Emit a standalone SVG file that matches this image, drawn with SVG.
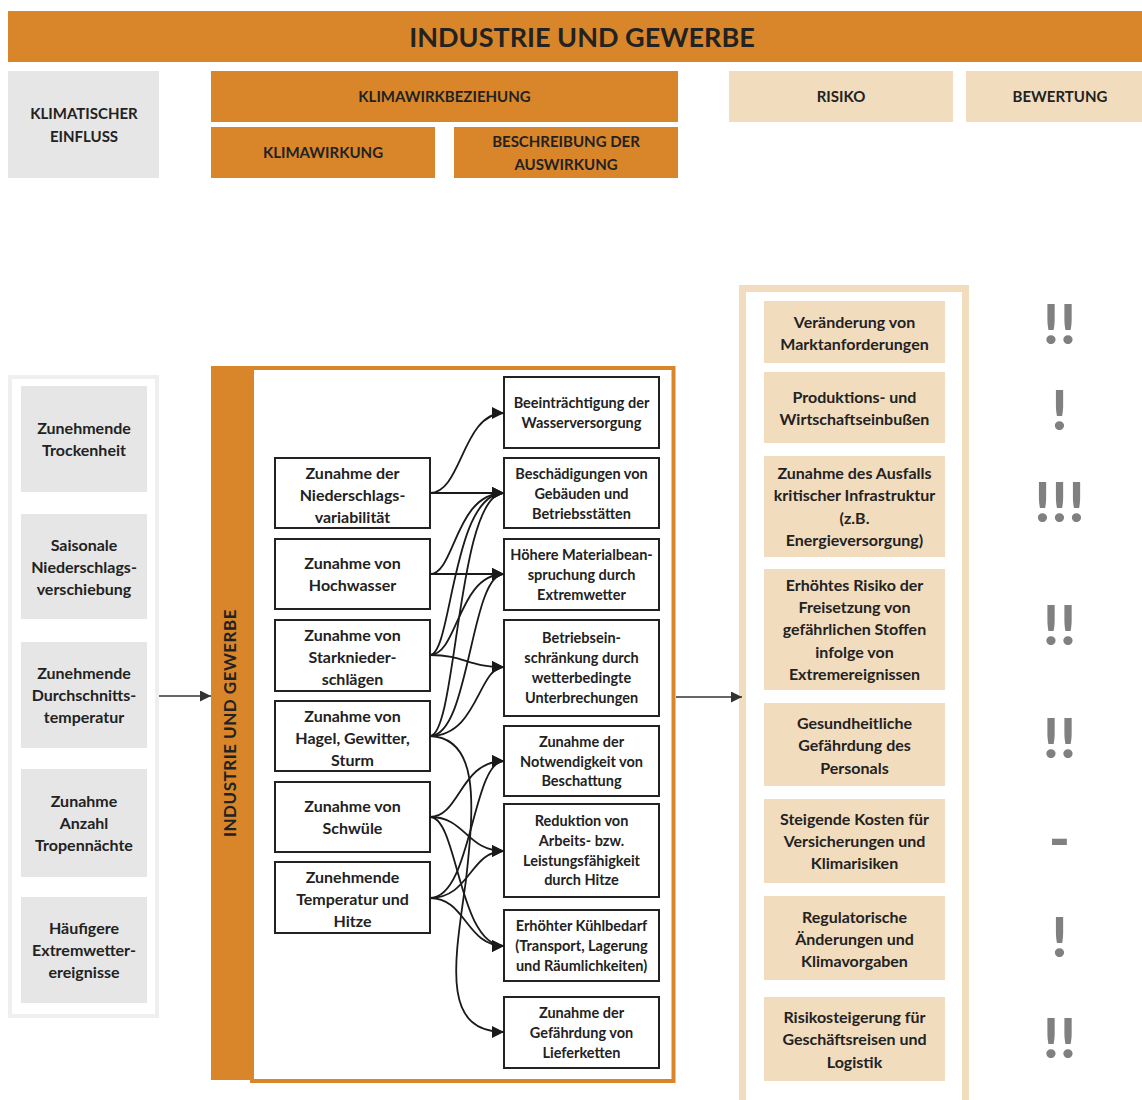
<svg xmlns="http://www.w3.org/2000/svg" width="1142" height="1100" viewBox="0 0 1142 1100">
  <style>
    .t { font-family: "Lato", "Noto Sans", "Liberation Sans", sans-serif; font-weight: 700; fill: #222; text-anchor: middle; }
    .hd { font-size: 15px; }
    .lg { font-size: 16px; }
    .sm { font-size: 14.5px; }
    .orange { fill: #D9862A; }
    .beige { fill: #F2DCBE; }
    .grey { fill: #E6E6E6; }
    .box { fill: #fff; stroke: #222; stroke-width: 2; }
    .edge { fill: none; stroke: #1a1a1a; stroke-width: 1.8; marker-end: url(#ah); }
    .flow { fill: none; stroke: #333; stroke-width: 1.6; marker-end: url(#ah2); }
    .mark { font-family: "Lato", "Liberation Sans", sans-serif; font-weight: 900; font-size: 56px; fill: #808080; text-anchor: middle; letter-spacing: 1px; }
  </style>
  <defs>
    <marker id="ah" viewBox="0 0 10 10" refX="10" refY="5" markerWidth="12" markerHeight="12" markerUnits="userSpaceOnUse" orient="auto">
      <path d="M0,0 L10,5 L0,10 z" fill="#1a1a1a"/>
    </marker>
    <marker id="ah2" viewBox="0 0 10 10" refX="10" refY="5" markerWidth="11" markerHeight="11" markerUnits="userSpaceOnUse" orient="auto">
      <path d="M0,0 L10,5 L0,10 z" fill="#333"/>
    </marker>
  </defs>

  <rect width="1142" height="1100" fill="#fff"/>

  <!-- title bar -->
  <g id="title">
    <rect class="orange" x="8" y="11" width="1134" height="51"/>
    <text class="t" x="582" y="47" font-size="27">INDUSTRIE UND GEWERBE</text>
  </g>

  <!-- column headers -->
  <g id="hdr-einfluss">
    <rect class="grey" x="8" y="71" width="151" height="107"/>
    <text class="t hd" x="84" y="119">KLIMATISCHER</text>
    <text class="t hd" x="84" y="142">EINFLUSS</text>
  </g>
  <g id="hdr-klimawirkbeziehung">
    <rect class="orange" x="211" y="71" width="467" height="51"/>
    <text class="t hd" x="444.5" y="102">KLIMAWIRKBEZIEHUNG</text>
  </g>
  <g id="hdr-klimawirkung">
    <rect class="orange" x="211" y="127" width="224" height="51"/>
    <text class="t hd" x="323" y="158">KLIMAWIRKUNG</text>
  </g>
  <g id="hdr-beschreibung">
    <rect class="orange" x="454" y="127" width="224" height="51"/>
    <text class="t hd" x="566" y="147">BESCHREIBUNG DER</text>
    <text class="t hd" x="566" y="170">AUSWIRKUNG</text>
  </g>
  <g id="hdr-risiko">
    <rect class="beige" x="729" y="71" width="224" height="51"/>
    <text class="t hd" x="841" y="102">RISIKO</text>
  </g>
  <g id="hdr-bewertung">
    <rect class="beige" x="966" y="71" width="176" height="51"/>
    <text class="t hd" x="1060" y="102">BEWERTUNG</text>
  </g>

  <!-- climate influence column -->
  <g id="einfluss-frame">
    <rect x="10" y="377" width="147" height="639" fill="#fff" stroke="#EFEFEF" stroke-width="4"/>
  </g>
  <g id="e1">
    <rect class="grey" x="21" y="386" width="126" height="106"/>
    <text class="t lg" x="84" y="434">Zunehmende</text>
    <text class="t lg" x="84" y="456">Trockenheit</text>
  </g>
  <g id="e2">
    <rect class="grey" x="21" y="514" width="126" height="105"/>
    <text class="t lg" x="84" y="551">Saisonale</text>
    <text class="t lg" x="84" y="573">Niederschlags-</text>
    <text class="t lg" x="84" y="595">verschiebung</text>
  </g>
  <g id="e3">
    <rect class="grey" x="21" y="642" width="126" height="106"/>
    <text class="t lg" x="84" y="679">Zunehmende</text>
    <text class="t lg" x="84" y="701">Durchschnitts-</text>
    <text class="t lg" x="84" y="723">temperatur</text>
  </g>
  <g id="e4">
    <rect class="grey" x="21" y="769" width="126" height="108"/>
    <text class="t lg" x="84" y="807">Zunahme</text>
    <text class="t lg" x="84" y="829">Anzahl</text>
    <text class="t lg" x="84" y="851">Tropennächte</text>
  </g>
  <g id="e5">
    <rect class="grey" x="21" y="897" width="126" height="106"/>
    <text class="t lg" x="84" y="934">Häufigere</text>
    <text class="t lg" x="84" y="956">Extremwetter-</text>
    <text class="t lg" x="84" y="978">ereignisse</text>
  </g>

  <!-- sector frame -->
  <g id="sector">
    <rect x="252" y="368" width="421.5" height="713" fill="#fff" stroke="#D9862A" stroke-width="4"/>
    <rect class="orange" x="211" y="366" width="42" height="714"/>
    <text class="t" transform="translate(236,723) rotate(-90)" font-size="17" letter-spacing="0.5">INDUSTRIE UND GEWERBE</text>
  </g>

  <!-- climate effects -->
  <g id="k1">
    <rect class="box" x="275" y="458" width="155" height="70"/>
    <text class="t lg" x="352.5" y="479">Zunahme der</text>
    <text class="t lg" x="352.5" y="501">Niederschlags-</text>
    <text class="t lg" x="352.5" y="523">variabilität</text>
  </g>
  <g id="k2">
    <rect class="box" x="275" y="539" width="155" height="70"/>
    <text class="t lg" x="352.5" y="569">Zunahme von</text>
    <text class="t lg" x="352.5" y="591">Hochwasser</text>
  </g>
  <g id="k3">
    <rect class="box" x="275" y="620" width="155" height="71"/>
    <text class="t lg" x="352.5" y="641">Zunahme von</text>
    <text class="t lg" x="352.5" y="663">Starknieder-</text>
    <text class="t lg" x="352.5" y="685">schlägen</text>
  </g>
  <g id="k4">
    <rect class="box" x="275" y="701" width="155" height="70"/>
    <text class="t lg" x="352.5" y="722">Zunahme von</text>
    <text class="t lg" x="352.5" y="744">Hagel, Gewitter,</text>
    <text class="t lg" x="352.5" y="766">Sturm</text>
  </g>
  <g id="k5">
    <rect class="box" x="275" y="782" width="155" height="70"/>
    <text class="t lg" x="352.5" y="812">Zunahme von</text>
    <text class="t lg" x="352.5" y="834">Schwüle</text>
  </g>
  <g id="k6">
    <rect class="box" x="275" y="862" width="155" height="71"/>
    <text class="t lg" x="352.5" y="883">Zunehmende</text>
    <text class="t lg" x="352.5" y="905">Temperatur und</text>
    <text class="t lg" x="352.5" y="927">Hitze</text>
  </g>

  <!-- impact descriptions -->
  <g id="a1">
    <rect class="box" x="504" y="377" width="155" height="71"/>
    <text class="t sm" x="581.5" y="408">Beeinträchtigung der</text>
    <text class="t sm" x="581.5" y="428">Wasserversorgung</text>
  </g>
  <g id="a2">
    <rect class="box" x="504" y="458" width="155" height="70"/>
    <text class="t sm" x="581.5" y="479">Beschädigungen von</text>
    <text class="t sm" x="581.5" y="499">Gebäuden und</text>
    <text class="t sm" x="581.5" y="519">Betriebsstätten</text>
  </g>
  <g id="a3">
    <rect class="box" x="504" y="539" width="155" height="71"/>
    <text class="t sm" x="581.5" y="560">Höhere Materialbean-</text>
    <text class="t sm" x="581.5" y="580">spruchung durch</text>
    <text class="t sm" x="581.5" y="600">Extremwetter</text>
  </g>
  <g id="a4">
    <rect class="box" x="504" y="620" width="155" height="96"/>
    <text class="t sm" x="581.5" y="643">Betriebsein-</text>
    <text class="t sm" x="581.5" y="663">schränkung durch</text>
    <text class="t sm" x="581.5" y="683">wetterbedingte</text>
    <text class="t sm" x="581.5" y="703">Unterbrechungen</text>
  </g>
  <g id="a5">
    <rect class="box" x="504" y="726" width="155" height="70"/>
    <text class="t sm" x="581.5" y="747">Zunahme der</text>
    <text class="t sm" x="581.5" y="767">Notwendigkeit von</text>
    <text class="t sm" x="581.5" y="786">Beschattung</text>
  </g>
  <g id="a6">
    <rect class="box" x="504" y="804" width="155" height="93"/>
    <text class="t sm" x="581.5" y="826">Reduktion von</text>
    <text class="t sm" x="581.5" y="846">Arbeits- bzw.</text>
    <text class="t sm" x="581.5" y="866">Leistungsfähigkeit</text>
    <text class="t sm" x="581.5" y="885">durch Hitze</text>
  </g>
  <g id="a7">
    <rect class="box" x="504" y="910" width="155" height="71"/>
    <text class="t sm" x="581.5" y="931">Erhöhter Kühlbedarf</text>
    <text class="t sm" x="581.5" y="951">(Transport, Lagerung</text>
    <text class="t sm" x="581.5" y="971">und Räumlichkeiten)</text>
  </g>
  <g id="a8">
    <rect class="box" x="504" y="997" width="155" height="71"/>
    <text class="t sm" x="581.5" y="1018">Zunahme der</text>
    <text class="t sm" x="581.5" y="1038">Gefährdung von</text>
    <text class="t sm" x="581.5" y="1058">Lieferketten</text>
  </g>

  <!-- risk column -->
  <g id="risk-frame">
    <rect x="742.5" y="288.5" width="223" height="900" fill="none" stroke="#F2DCBE" stroke-width="7"/>
  </g>
  <g id="r1">
    <rect class="beige" x="764" y="301" width="181" height="62"/>
    <text class="t lg" x="854.5" y="328">Veränderung von</text>
    <text class="t lg" x="854.5" y="350">Marktanforderungen</text>
  </g>
  <g id="r2">
    <rect class="beige" x="764" y="372" width="181" height="71"/>
    <text class="t lg" x="854.5" y="403">Produktions- und</text>
    <text class="t lg" x="854.5" y="425">Wirtschaftseinbußen</text>
  </g>
  <g id="r3">
    <rect class="beige" x="764" y="456" width="181" height="101"/>
    <text class="t lg" x="854.5" y="479">Zunahme des Ausfalls</text>
    <text class="t lg" x="854.5" y="501">kritischer Infrastruktur</text>
    <text class="t lg" x="854.5" y="524">(z.B.</text>
    <text class="t lg" x="854.5" y="546">Energieversorgung)</text>
  </g>
  <g id="r4">
    <rect class="beige" x="764" y="569" width="181" height="121"/>
    <text class="t lg" x="854.5" y="591">Erhöhtes Risiko der</text>
    <text class="t lg" x="854.5" y="613">Freisetzung von</text>
    <text class="t lg" x="854.5" y="635">gefährlichen Stoffen</text>
    <text class="t lg" x="854.5" y="658">infolge von</text>
    <text class="t lg" x="854.5" y="680">Extremereignissen</text>
  </g>
  <g id="r5">
    <rect class="beige" x="764" y="703" width="181" height="83"/>
    <text class="t lg" x="854.5" y="729">Gesundheitliche</text>
    <text class="t lg" x="854.5" y="751">Gefährdung des</text>
    <text class="t lg" x="854.5" y="774">Personals</text>
  </g>
  <g id="r6">
    <rect class="beige" x="764" y="799" width="181" height="84"/>
    <text class="t lg" x="854.5" y="825">Steigende Kosten für</text>
    <text class="t lg" x="854.5" y="847">Versicherungen und</text>
    <text class="t lg" x="854.5" y="869">Klimarisiken</text>
  </g>
  <g id="r7">
    <rect class="beige" x="764" y="896" width="181" height="84"/>
    <text class="t lg" x="854.5" y="923">Regulatorische</text>
    <text class="t lg" x="854.5" y="945">Änderungen und</text>
    <text class="t lg" x="854.5" y="967">Klimavorgaben</text>
  </g>
  <g id="r8">
    <rect class="beige" x="764" y="997" width="181" height="84"/>
    <text class="t lg" x="854.5" y="1023">Risikosteigerung für</text>
    <text class="t lg" x="854.5" y="1045">Geschäftsreisen und</text>
    <text class="t lg" x="854.5" y="1068">Logistik</text>
  </g>

  <!-- ratings -->
  <g id="ratings">
    <text class="mark" x="1060" y="344">!!</text>
    <text class="mark" x="1060" y="430">!</text>
    <text class="mark" x="1060" y="522">!!!</text>
    <text class="mark" x="1060" y="645">!!</text>
    <text class="mark" x="1060" y="758">!!</text>
    <text class="mark" x="1060" y="859">-</text>
    <text class="mark" x="1060" y="957">!</text>
    <text class="mark" x="1060" y="1058">!!</text>
  </g>

  <!-- connectors -->
  <g id="connectors">
    <path class="flow" d="M159,696 L211,696"/>
    <path class="flow" d="M676,697 L742,697"/>

    <path class="edge" d="M430,493 C462,493 462,413 504,413"/>
    <path class="edge" d="M430,493 L504,493"/>

    <path class="edge" d="M430,574 C455,574 455,493 504,493"/>
    <path class="edge" d="M430,574 L504,574"/>

    <path class="edge" d="M430,655 C452,655 452,493 504,493"/>
    <path class="edge" d="M430,655 C458,655 458,574 504,574"/>
    <path class="edge" d="M430,655 C466,655 466,667 504,667"/>

    <path class="edge" d="M430,736 C457,736 457,493 504,493"/>
    <path class="edge" d="M430,736 C470,736 470,574 504,574"/>
    <path class="edge" d="M430,736 C478,736 478,667 504,667"/>
    <path class="edge" d="M430,736 C478,738 475,800 466,880 C455,960 440,1032 504,1032"/>

    <path class="edge" d="M430,817 C460,817 460,761 504,761"/>
    <path class="edge" d="M430,817 C466,817 466,851 504,851"/>
    <path class="edge" d="M430,817 C458,817 458,946 504,946"/>

    <path class="edge" d="M430,898 C472,898 472,761 504,761"/>
    <path class="edge" d="M430,898 C470,898 470,851 504,851"/>
    <path class="edge" d="M430,898 C466,898 466,946 504,946"/>
  </g>
</svg>
